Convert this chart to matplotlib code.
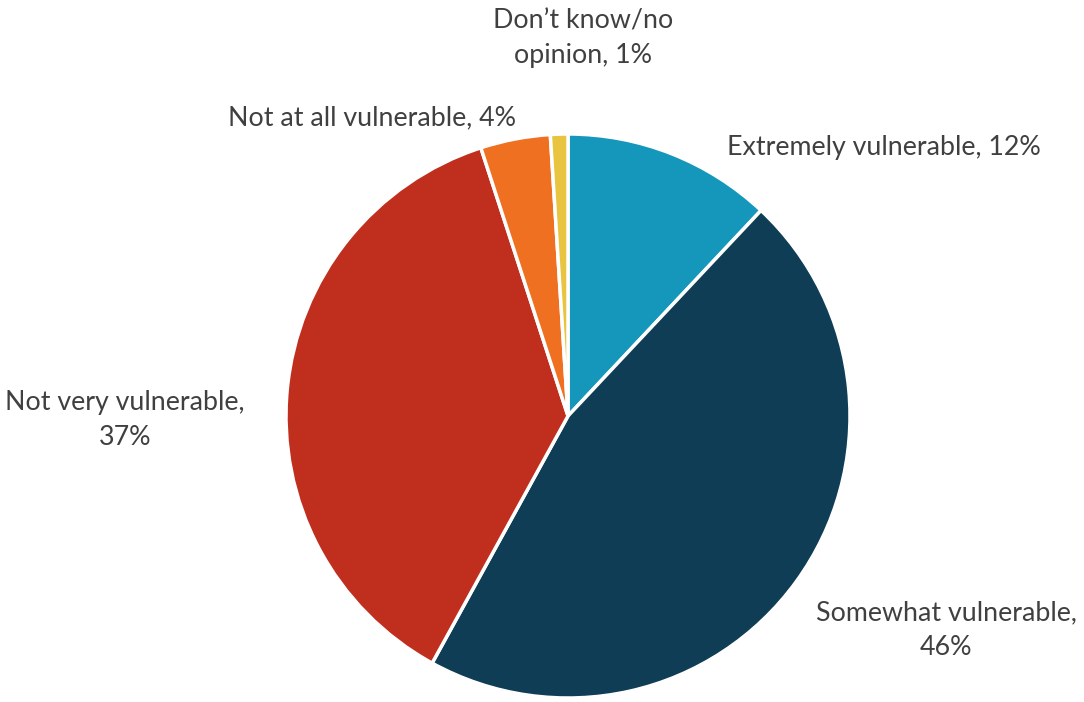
import matplotlib
matplotlib.use('Agg')
import matplotlib.pyplot as plt

# survey responses, clockwise from 12 o'clock
categories = ['Extremely vulnerable', 'Somewhat vulnerable', 'Not very vulnerable',
              'Not at all vulnerable', 'Don\u2019t know/no opinion']
values = [12, 46, 37, 4, 1]
colors = ['#1596BB', '#0F3D55', '#C02F1E', '#F07022', '#E8C440']

# label text and anchor (figure pixels from top-left)
labels = ['Extremely vulnerable, 12%', 'Somewhat vulnerable,\n46%', 'Not very vulnerable,\n37%',
          'Not at all vulnerable, 4%', 'Don\u2019t know/no\nopinion, 1%']
label_xy = [(884, 148), (946, 630), (125, 420), (372, 118), (583, 38)]

W, H = 1084, 702
fig = plt.figure(figsize=(W / 100, H / 100), dpi=100)
cx, cy, r = 568, 416, 282
ax = fig.add_axes([(cx - r) / W, (H - cy - r) / H, 2 * r / W, 2 * r / H])
ax.pie(values, colors=colors, startangle=90, counterclock=False,
       wedgeprops=dict(edgecolor='white', linewidth=2.5))
ax.set_xlim(-1, 1)
ax.set_ylim(-1, 1)
ax.set_aspect('equal')
ax.axis('off')

for txt, (x, y) in zip(labels, label_xy):
    fig.text(x / W, 1 - y / H, txt, ha='center', va='center', fontsize=19.3,
             family='Lato', color='#404040', linespacing=1.5)

fig.savefig('out.png', dpi=100)
